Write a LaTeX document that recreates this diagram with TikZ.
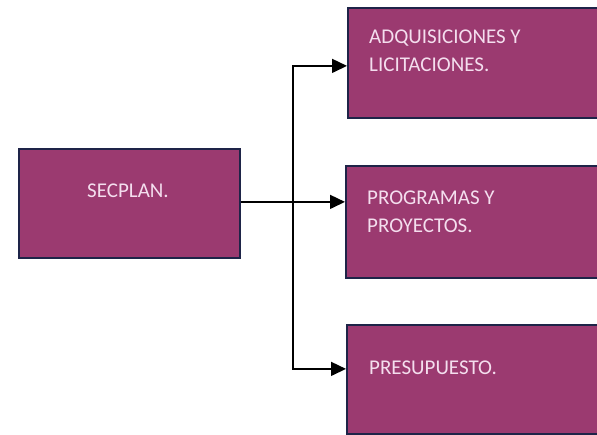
\documentclass[tikz,border=0pt]{standalone}
\usepackage{fontspec}
\setmainfont{Carlito}
\usetikzlibrary{arrows.meta}
\definecolor{boxfill}{RGB}{155,58,112}
\definecolor{boxline}{RGB}{30,36,72}
\definecolor{boxtext}{RGB}{244,222,238}
\tikzset{
  box/.style={draw=boxline, line width=1.8pt, fill=boxfill, anchor=north west, inner sep=0pt},
  lbl/.style={text=boxtext, font=\fontsize{21}{28}\selectfont, align=left, anchor=base west, inner sep=0pt},
  conn/.style={line width=1.5pt, draw=black},
  arr/.style={conn, -{Triangle[length=15pt,width=14pt]}}
}
\begin{document}
\begin{tikzpicture}[x=1pt,y=-1pt]
\useasboundingbox (0,0) rectangle (597,435);
\clip (0,0) rectangle (597,435);
\fill[white] (0,0) rectangle (597,435);
% boxes
\node[box, minimum width=221pt, minimum height=109pt] (sec) at (18,148) {};
\node[box, minimum width=280pt, minimum height=110pt] (adq) at (347,7) {};
\node[box, minimum width=280pt, minimum height=112pt] (pro) at (345,165) {};
\node[box, minimum width=280pt, minimum height=109pt] (pre) at (346,324) {};
% texts
\node[lbl, anchor=base] (tsec) at (128,198) {SECPLAN.};
\node[lbl] (tadq) at (369,72) {ADQUISICIONES Y\\LICITACIONES.};
\node[lbl] (tpro) at (367,233) {PROGRAMAS Y\\PROYECTOS.};
\node[lbl] (tpre) at (369,375) {PRESUPUESTO.};
% connectors
\coordinate (j) at (293,201);
\draw[arr] ([yshift=1.5pt]sec.east) -- ([yshift=20pt]pro.west);
\draw[arr] (j) |- ([yshift=-3pt]adq.west);
\draw[arr] (j) |- ([yshift=10.5pt]pre.west);
\end{tikzpicture}
\end{document}
